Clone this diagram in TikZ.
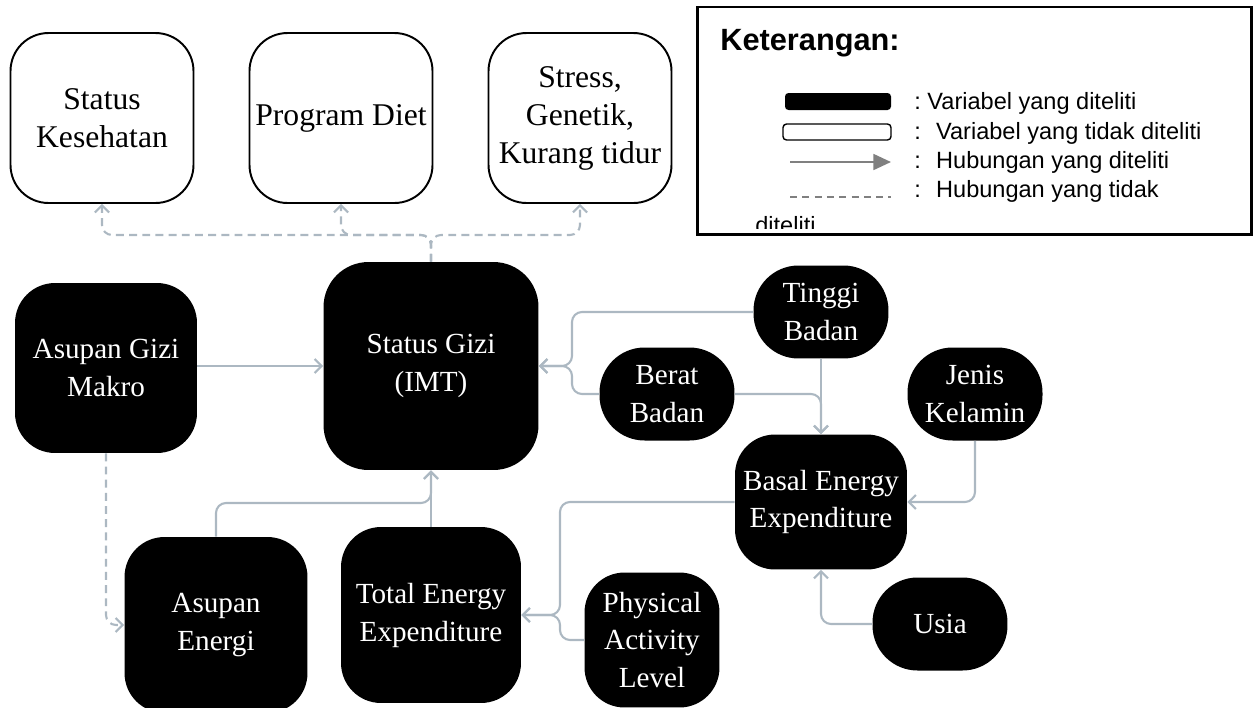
\documentclass[tikz,border=0pt]{standalone}
\usepackage{fontspec}
\setmainfont{Liberation Serif}
\newfontfamily\legendfont{Liberation Sans}
\usetikzlibrary{arrows.meta}
\definecolor{linkgray}{RGB}{172,184,194}
\definecolor{legendgray}{RGB}{128,128,128}

\begin{document}
\begin{tikzpicture}[x=0.02cm,y=-0.02cm,
  var/.style={fill=black,text=white,align=center,rounded corners=0.8cm,inner sep=2pt,font=\fontsize{16.6}{21.6}\selectfont},
  pill/.style={var,rounded corners=0.9cm,minimum width=2.7cm,minimum height=1.86cm},
  othervar/.style={draw=black,line width=1.1pt,align=center,rounded corners=0.76cm,minimum width=3.66cm,minimum height=3.4cm,font=\fontsize{18}{21.6}\selectfont},
  link/.style={draw=linkgray,line width=1.2pt,rounded corners=0.2cm,-{Straight Barb[length=4pt,width=8pt]}},
  nolink/.style={link,dash pattern=on 4.5pt off 3pt},
  legendtext/.style={anchor=base west,inner sep=0pt,font=\legendfont\fontsize{13.4}{16}\selectfont}]
\useasboundingbox (0,0) rectangle (1254,707);

\node[othervar] (kesehatan) at (102,118) {Status\\Kesehatan};
\node[othervar] (diet) at (341,118) {Program Diet};
\node[othervar] (stress) at (580,118) {Stress,\\Genetik,\\Kurang tidur};

\node[var,minimum width=3.64cm,minimum height=3.4cm] (makro) at (106,368) {Asupan Gizi\\Makro};
\node[var,minimum width=4.3cm,minimum height=4.16cm,rounded corners=0.9cm] (gizi) at (431,366) {Status Gizi\\(IMT)};
\node[pill] (tinggi) at (821,312) {Tinggi\\Badan};
\node[pill] (berat) at (667,394) {Berat\\Badan};
\node[pill] (jenis) at (975,394) {Jenis\\Kelamin};
\node[var,minimum width=3.44cm,minimum height=2.7cm] (basal) at (821,502) {Basal Energy\\Expenditure};
\node[pill] (usia) at (940,624) {Usia};
\node[var,minimum width=2.7cm,minimum height=2.7cm] (activity) at (652,640) {Physical\\Activity\\Level};
\node[var,minimum width=3.6cm,minimum height=3.52cm] (total) at (431,615) {Total Energy\\Expenditure};
\node[var,minimum width=3.66cm,minimum height=3.52cm] (energi) at (216,625) {Asupan\\Energi};

\coordinate (jgizi) at (572,366);
\coordinate (jtotal) at (560,615);
\coordinate (jbottom) at (431,503);
\coordinate (jtop) at (431,235);

\draw[link] (makro.east |- gizi) -- (gizi.west);
\draw[link] (tinggi.west) -| (jgizi) -- (gizi.east);
\draw[link] (berat.west) -| (jgizi) -- (gizi.east);
\draw[link] (tinggi.south) -- (basal.north);
\draw[link] (berat.east) -| (basal.north);
\draw[link] (jenis.south) |- (basal.east);
\draw[link] (usia.west) -| (basal.south);
\draw[link] (basal.west) -| (jtotal) -- (total.east);
\draw[link] (activity.west) -| (jtotal) -- (total.east);
\draw[link] (total.north) -- (gizi.south);
\draw[link] (energi.north) |- (jbottom) -- (gizi.south);
\draw[nolink] (makro.south) |- (energi.west);
\draw[nolink] (gizi.north) -- (jtop) -| (kesehatan.south);
\draw[nolink] (gizi.north) -- (jtop) -| (diet.south);
\draw[nolink] (gizi.north) -- (jtop) -| (stress.south);

\draw[line width=1.7pt] (697,7) rectangle (1251,234);
\node[anchor=base west,inner sep=0pt,font=\legendfont\bfseries\fontsize{17.5}{20}\selectfont] (title) at (720,50) {Keterangan:};
\fill[rounded corners=2pt] (785,93) rectangle (891,110);
\draw[line width=0.8pt,rounded corners=2pt] (783,124) rectangle (891,140);
\draw[legendgray,line width=1.3pt,-{Triangle[length=10pt,width=9pt]}] (790,162) -- (891,162);
\draw[legendgray,line width=0.8pt,dash pattern=on 4pt off 3pt] (790,197) -- (891,197);
\node[legendtext] (lg1) at (914,109) {:\ Variabel yang diteliti};
\node[legendtext] (lg2) at (914,139) {:~ Variabel yang tidak diteliti};
\node[legendtext] (lg3) at (914,168) {:~ Hubungan yang diteliti};
\node[legendtext] (lg4) at (914,197) {:~ Hubungan yang tidak};
\begin{scope}
\clip (697,7) rectangle (1251,228);
\node[legendtext] (lg5) at (755,233) {diteliti};
\end{scope}
\end{tikzpicture}
\end{document}
